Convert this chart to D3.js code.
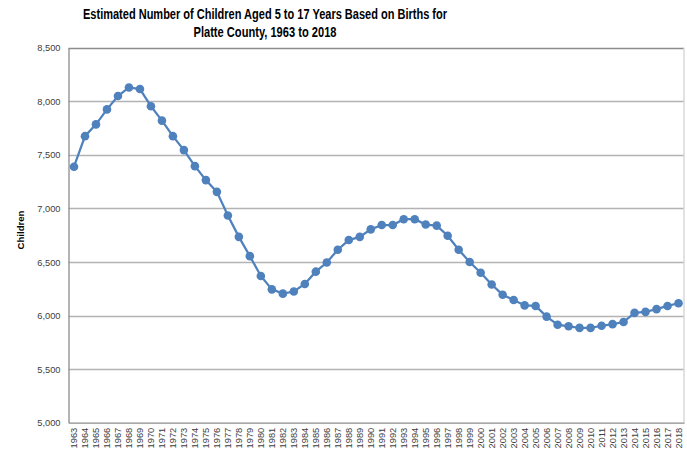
<!DOCTYPE html>
<html lang="en">
<head>
    <meta charset="UTF-8">
    <title>Platte County children</title>
    <style>
        body { margin: 0; background: #fff; }
        text { font-family: "Liberation Sans", Arial, sans-serif; }
    </style>
</head>
<body>
    <script src="https://d3js.org/d3.v7.min.js"></script>
    <script>
        var years = d3.range(1963, 2019).map(String);
        var children = [
            7390, 7675, 7785, 7925, 8050, 8130, 8115, 7955, 7820, 7675,
            7545, 7395, 7265, 7155, 6935, 6735, 6555, 6370, 6245, 6205,
            6225, 6295, 6410, 6495, 6615, 6705, 6735, 6805, 6845, 6845,
            6900, 6900, 6850, 6840, 6745, 6615, 6500, 6400, 6290, 6195,
            6145, 6095, 6090, 5990, 5915, 5900, 5885, 5885, 5905, 5920,
            5940, 6025, 6035, 6060, 6090, 6115
        ];
        var yTicks = [5000, 5500, 6000, 6500, 7000, 7500, 8000, 8500];
        var titleLines = ["Estimated Number of Children Aged 5 to 17 Years Based on Births for",
                          "Platte County, 1963 to 2018"];

        var w = 687, h = 458;
        // plot area (window.top is reserved, so use m.*)
        var m = {left: 68.5, right: 684, top: 47.8, bottom: 422.7};

        var svg = d3.select("body").append("svg")
            .attr("width", w)
            .attr("height", h);

        var x = d3.scaleBand().domain(years).range([m.left, m.right]);
        var y = d3.scaleLinear().domain([5000, 8500]).range([m.bottom, m.top]);

        // gridlines
        svg.append("g")
            .selectAll("line")
            .data(yTicks.slice(1))
            .enter().append("line")
            .attr("x1", m.left).attr("x2", m.right)
            .attr("y1", function(d) { return Math.round(y(d)) + 0.5; })
            .attr("y2", function(d) { return Math.round(y(d)) + 0.5; })
            .attr("stroke", function(d) { return d === 8500 ? "#8c8c8c" : "#b3b3b3"; })
            .attr("stroke-width", 1.3);

        // right border
        svg.append("line")
            .attr("x1", m.right).attr("x2", m.right)
            .attr("y1", m.top).attr("y2", m.bottom)
            .attr("stroke", "#d9d9d9").attr("stroke-width", 1.5);

        // y axis
        var yAxis = d3.axisLeft(y).tickValues(yTicks).tickSize(0).tickPadding(8)
            .tickFormat(d3.format(","));
        var gy = svg.append("g")
            .attr("transform", "translate(" + m.left + ",0)")
            .call(yAxis);
        gy.select(".domain").attr("stroke", "#8c8c8c").attr("stroke-width", 1.3);
        gy.selectAll("text").attr("font-size", "9.3px").attr("fill", "#404040")
            .attr("font-family", "Liberation Sans, Arial, sans-serif");

        // x axis
        var xAxis = d3.axisBottom(x).tickSize(0).tickPadding(0);
        var gx = svg.append("g")
            .attr("transform", "translate(0," + m.bottom + ")")
            .call(xAxis);
        gx.select(".domain").attr("stroke", "#8c8c8c").attr("stroke-width", 1.3);
        gx.selectAll("text")
            .attr("font-size", "9.3px")
            .attr("fill", "#404040")
            .attr("font-family", "Liberation Sans, Arial, sans-serif")
            .attr("text-anchor", "end")
            .attr("transform", "rotate(-90)")
            .attr("x", -5)
            .attr("y", 0)
            .attr("dy", "0.35em");

        // line
        var pts = years.map(function(yr, i) { return {year: yr, value: children[i]}; });
        var cx = function(d) { return x(d.year) + x.bandwidth() / 2; };

        svg.append("path")
            .datum(pts)
            .attr("fill", "none")
            .attr("stroke", "#4f81bd")
            .attr("stroke-width", 2.25)
            .attr("d", d3.line().x(cx).y(function(d) { return y(d.value); }));

        svg.append("g")
            .selectAll("circle")
            .data(pts)
            .enter().append("circle")
            .attr("cx", cx)
            .attr("cy", function(d) { return y(d.value); })
            .attr("r", 4.3)
            .attr("fill", "#4f81bd");

        // title
        svg.append("g")
            .selectAll("text")
            .data(titleLines)
            .enter().append("text")
            .attr("x", 265)
            .attr("y", function(d, i) { return 18.8 + i * 18; })
            .attr("text-anchor", "middle")
            .attr("font-size", "13.8px")
            .attr("font-weight", "bold")
            .attr("fill", "#000")
            .attr("textLength", function(d, i) { return i === 0 ? 364 : 143; })
            .attr("lengthAdjust", "spacingAndGlyphs")
            .text(function(d) { return d; });

        // y title
        svg.append("text")
            .attr("transform", "translate(24.3,230) rotate(-90)")
            .attr("text-anchor", "middle")
            .attr("font-size", "9.6px")
            .attr("font-weight", "bold")
            .attr("fill", "#000")
            .text("Children");
    </script>
</body>
</html>
